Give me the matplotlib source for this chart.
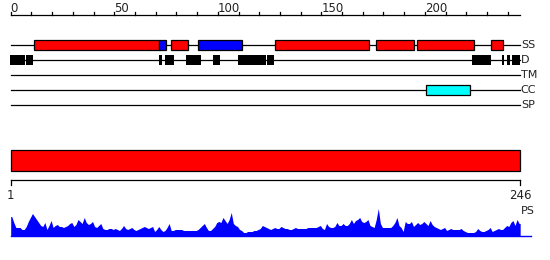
import numpy as np
import matplotlib
matplotlib.use("Agg")
import matplotlib.pyplot as plt

seq_len = 246

# secondary structure (start, end, color)
ss_starts = [11.4, 71.75, 77.4, 90.6, 127.8, 176.6, 196.0, 231.9]
ss_ends = [71.75, 74.8, 85.8, 111.8, 173.0, 194.5, 223.7, 237.9]
ss_colors = ['red', 'blue', 'red', 'blue', 'red', 'red', 'red', 'red']

# disorder blocks
d_starts = [-0.2, 7.4, 71.6, 74.5, 84.6, 97.8, 109.6, 123.6, 222.6, 237.1, 239.6, 242.2]
d_ends = [6.9, 10.6, 73.1, 78.7, 91.7, 101.1, 123.1, 127.1, 231.8, 238.2, 241.1, 246.0]

# coiled coil
cc_starts = [200.7]
cc_ends = [221.9]

row_labels = ['SS', 'D', 'TM', 'CC', 'SP']

# PS profile, one value per residue
ps_values = [
    19, 13, 8, 8, 8, 6, 6, 9, 14, 18, 22, 19, 16, 13, 10, 9, 13, 6, 10, 15,
    8, 10, 11, 9, 9, 8, 9, 10, 12, 13, 9, 11, 16, 14, 12, 18, 13, 11, 12, 14,
    9, 8, 10, 12, 7, 6, 6, 7, 7, 6, 7, 6, 5, 7, 10, 7, 6, 7, 8, 6,
    5, 6, 7, 8, 9, 8, 7, 8, 9, 4, 6, 9, 6, 4, 5, 8, 12, 5, 5, 6,
    6, 6, 6, 5, 5, 5, 5, 5, 5, 5, 6, 8, 10, 12, 8, 5, 5, 7, 9, 13,
    14, 13, 18, 15, 12, 16, 23, 12, 10, 9, 6, 5, 3, 3, 4, 4, 4, 5, 5, 6,
    7, 10, 9, 8, 7, 6, 7, 8, 7, 7, 9, 8, 7, 7, 6, 6, 7, 8, 7, 7,
    7, 7, 7, 8, 8, 8, 8, 8, 9, 10, 7, 6, 12, 9, 8, 8, 9, 13, 10, 10,
    12, 10, 10, 12, 16, 12, 15, 16, 18, 14, 13, 14, 16, 10, 9, 8, 16, 27, 12, 8,
    8, 8, 8, 8, 10, 13, 18, 10, 8, 4, 14, 12, 12, 14, 9, 11, 13, 11, 12, 14,
    12, 10, 15, 11, 9, 8, 7, 6, 7, 8, 5, 6, 7, 6, 6, 6, 6, 7, 5, 4,
    3, 3, 3, 3, 4, 7, 5, 4, 4, 5, 6, 8, 4, 5, 6, 7, 6, 6, 8, 10,
    9, 13, 15, 10, 16, 12,
]

# pixel layout: residue r sits at x = x0 + r * scale
x0 = 10.7
scale = 2.071
W, H = 550, 260


def px(xp):
    return (xp - x0) / scale


fig = plt.figure(figsize=(5.5, 2.6), dpi=100)
ax = fig.add_axes([0, 0, 1, 1])
ax.set_xlim(px(0), px(W))
ax.set_ylim(H, 0)
ax.axis('off')

lw = 0.9

# top ruler
ax.plot([0, seq_len], [15, 15], color='black', lw=lw)
for t in range(0, seq_len, 10):
    ax.plot([t, t], [15, 12], color='black', lw=lw)
    if t % 50 == 0:
        ax.text(t, 11.5, str(t), ha='left', va='baseline', fontsize=8.5, color='#222222')

row_y = [45, 60, 75, 90, 105]
for y, lab in zip(row_y, row_labels):
    ax.plot([0, seq_len], [y, y], color='black', lw=lw, zorder=1)
    ax.text(seq_len + 0.3, y, lab, ha='left', va='center', fontsize=8, color='#222222')

ax.barh(row_y[0], np.array(ss_ends) - np.array(ss_starts), left=ss_starts, height=10,
        color=ss_colors, edgecolor='black', lw=lw, zorder=2)
ax.barh(row_y[1], np.array(d_ends) - np.array(d_starts), left=d_starts, height=10.5,
        color='black', edgecolor='black', lw=0, zorder=2)
ax.barh(row_y[3], np.array(cc_ends) - np.array(cc_starts), left=cc_starts, height=10,
        color='cyan', edgecolor='black', lw=lw, zorder=2)

# full-length bar
ax.barh(160.3, seq_len, left=0, height=20.5, color='red', edgecolor='black', lw=lw)

# lower scale
ax.plot([0, seq_len], [180.3, 180.3], color='black', lw=lw)
ax.plot([0, 0], [180.3, 185], color='black', lw=lw)
ax.plot([seq_len, seq_len], [180.3, 185], color='black', lw=lw)
ax.text(0, 195.5, '1', ha='center', va='center', fontsize=8.5, color='#222222')
ax.text(seq_len, 195.5, str(seq_len), ha='center', va='center', fontsize=8.5, color='#222222')
ax.text(seq_len + 0.3, 211, 'PS', ha='left', va='center', fontsize=8, color='#222222')

# PS profile
base = 235.5
xs = np.arange(len(ps_values)) + 0.5
ys = base - np.array(ps_values)
ax.fill_between(np.concatenate([[0], xs, [seq_len]]),
                np.concatenate([[ys[0]], ys, [ys[-1]]]), base,
                color='blue', lw=0)
ax.plot([0, px(531)], [base, base], color='blue', lw=1)

fig.savefig('out.png', dpi=100)
